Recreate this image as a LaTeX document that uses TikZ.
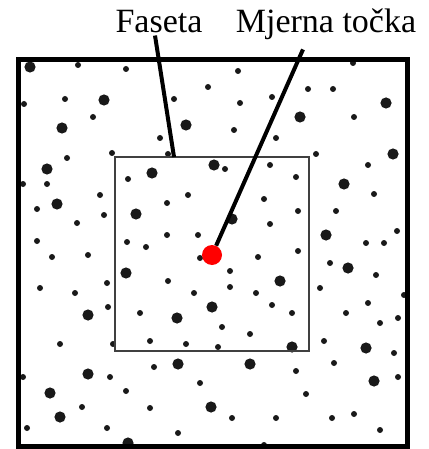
\documentclass[tikz,border=0pt]{standalone}
\usepackage{fontspec}
\setmainfont{Liberation Serif}
\usepackage{xcolor}
\usepackage{tikz}
\usetikzlibrary{calc}

\begin{document}
\begin{tikzpicture}[
  x=1pt, y=-1pt,
  font=\fontsize{34}{40}\selectfont,
  frame/.style={draw=black, line width=5pt, minimum width=389pt,
                minimum height=386pt, inner sep=0pt},
  facet/.style={draw=black!75, line width=2.2pt, minimum width=194pt,
                minimum height=194pt, inner sep=0pt},
  lbl/.style={inner sep=0pt, anchor=base},
  leader/.style={line width=4pt, black},
  mpoint/.style={circle, fill=red, minimum size=20pt, inner sep=0pt},
  sdot/.style={fill=black!90},
]
\useasboundingbox (0,0) rectangle (428,449);

%% Small dots
\foreach \p in {(78,65), (126,69), (238,71), (353,63), (208,87), (308,89), (333,89),
  (65,99), (174,99), (240,103), (272,97), (24,104), (93,117), (354,117), (234,130),
  (160,138), (276,138), (316,154), (67,158), (112,153), (168,154),
  (23,184), (47,184), (100,195), (37,209), (104,215), (77,223), (37,241), (52,257),
  (88,255), (40,288), (75,293), (107,283),
  (128,179), (167,203), (188,195), (127,242), (146,247), (167,235), (198,235),
  (200,258), (168,281), (194,293),
  (225,169), (270,165), (296,177), (264,199), (298,211), (270,224), (298,251),
  (258,257), (230,271), (230,287), (256,293),
  (368,165), (374,194), (336,211), (397,231), (366,243), (384,243), (330,263),
  (376,275), (320,288), (404,295),
  (108,307), (140,313), (60,344), (113,344), (150,341), (186,344), (23,377),
  (110,377), (154,367), (200,383), (126,391), (82,407), (150,408), (27,428),
  (107,428), (178,433),
  (272,305), (292,313), (222,327), (250,334), (218,347), (346,313), (368,303),
  (380,323), (398,318), (324,341), (394,353), (296,371), (334,363), (398,377),
  (306,394), (232,418), (276,418), (332,418), (354,414), (380,430), (264,445)}
  \fill[sdot] \p circle (3.0);

%% Large dots
\foreach \p in {(30,67), (104,100), (386,103), (300,117), (62,128), (186,125),
  (393,154), (47,169), (57,204), (152,173), (214,165), (136,214), (126,273),
  (232,219), (280,281), (344,184), (326,235), (348,268), (88,315), (177,318),
  (212,307), (88,374), (178,364), (50,393), (211,407), (60,417), (128,443),
  (292,347), (366,348), (250,364), (374,381)}
  \fill[sdot] \p circle (5.6);

%% Frames
\node[frame] (okvir)  at (212.5,253) {};
\node[facet] (faseta) at (212,254) {};
\coordinate (fTop) at (174,157);

%% Labels
\node[lbl] (lblF) at (159,33) {Faseta};
\node[lbl] (lblM) at (326,33) {Mjerna točka};

%% Measuring point and leaders
\node[mpoint] (mp) at (212,255) {};
\draw[leader] ([xshift=-4pt,yshift=-2pt]lblF.south) -- (fTop);
\draw[leader] ([xshift=-23pt,yshift=-9pt]lblM.south) -- (mp);
\end{tikzpicture}
\end{document}
